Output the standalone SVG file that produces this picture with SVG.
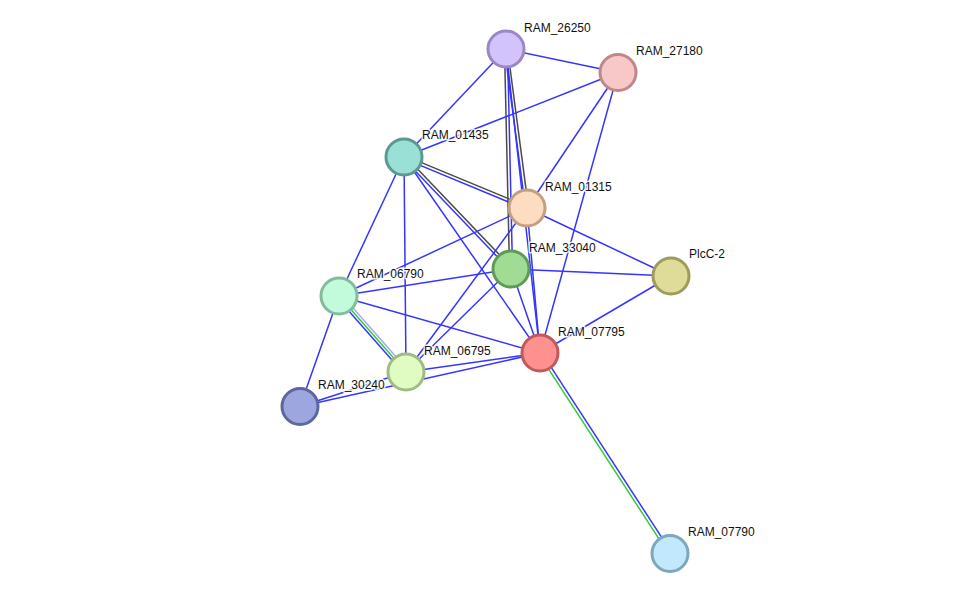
<svg xmlns="http://www.w3.org/2000/svg" width="975" height="599" viewBox="0 0 975 599">
<style>
.e{stroke:#3535ff;stroke-width:1.5;fill:none}
.k{stroke:#4a4a4a;stroke-width:1.5;fill:none}
.g{stroke:#33cc33;stroke-width:1.5;fill:none}
.h{stroke:#a8a8f4;stroke-width:1.5;fill:none}
.n{stroke-width:3}
.t{font-family:"Liberation Sans",Arial,sans-serif;font-size:12px;fill:#111;stroke:#fff;stroke-width:3;stroke-opacity:0.85;paint-order:stroke;stroke-linejoin:round}
</style>
<rect width="975" height="599" fill="#fff"/>
<g id="connectors">
<line class="e" x1="506" y1="49" x2="618" y2="72.5"/>
<line class="e" x1="506" y1="49" x2="404" y2="157"/>
<line class="e" x1="506" y1="49" x2="540" y2="353"/>
<line class="k" x1="504.5" y1="49" x2="509.5" y2="269"/>
<line class="e" x1="507.5" y1="49" x2="512.5" y2="269"/>
<line class="e" x1="504.5" y1="49.2" x2="525.5" y2="208.2"/>
<line class="k" x1="507.5" y1="48.8" x2="528.5" y2="207.8"/>
<line class="e" x1="618" y1="72.5" x2="404" y2="157"/>
<line class="e" x1="618" y1="72.5" x2="527" y2="208"/>
<line class="e" x1="618" y1="72.5" x2="540" y2="353"/>
<line class="k" x1="404.6" y1="155.6" x2="527.6" y2="206.6"/>
<line class="e" x1="403.4" y1="158.4" x2="526.4" y2="209.4"/>
<line class="k" x1="405.1" y1="156" x2="512.1" y2="268"/>
<line class="e" x1="402.9" y1="158" x2="509.9" y2="270"/>
<line class="e" x1="404" y1="157" x2="540" y2="353"/>
<line class="e" x1="404" y1="157" x2="339" y2="296"/>
<line class="e" x1="404" y1="157" x2="406" y2="372"/>
<line class="e" x1="527" y1="208" x2="671" y2="276"/>
<line class="e" x1="527" y1="208" x2="339" y2="296"/>
<line class="e" x1="527" y1="208" x2="406" y2="372"/>
<line class="e" x1="527" y1="208" x2="540" y2="353"/>
<line class="e" x1="511" y1="269" x2="671" y2="276"/>
<line class="e" x1="511" y1="269" x2="339" y2="296"/>
<line class="e" x1="511" y1="269" x2="406" y2="372"/>
<line class="e" x1="511" y1="269" x2="540" y2="353"/>
<line class="e" x1="671" y1="276" x2="540" y2="353"/>
<line class="e" x1="339" y1="296" x2="540" y2="353"/>
<line class="e" x1="339" y1="296" x2="300" y2="406.5"/>
<line class="e" x1="337.1" y1="297.7" x2="404.1" y2="373.7"/>
<line class="g" x1="339" y1="296" x2="406" y2="372"/>
<line class="h" x1="340.9" y1="294.3" x2="407.9" y2="370.3"/>
<line class="e" x1="406" y1="372" x2="540" y2="353"/>
<line class="e" x1="406" y1="372" x2="300" y2="406.5"/>
<line class="e" x1="300" y1="406.5" x2="540" y2="353"/>
<line class="g" x1="538.7" y1="353.8" x2="668.7" y2="553.8"/>
<line class="e" x1="541.3" y1="352.2" x2="671.3" y2="552.2"/>
</g>
<g id="RAM_26250"><circle class="n" cx="506" cy="49" r="18" fill="#d3c3fd" stroke="#9b86c8"/><text class="t" x="524" y="32">RAM_26250</text></g>
<g id="RAM_27180"><circle class="n" cx="618" cy="72.5" r="18" fill="#f8c8c8" stroke="#c08787"/><text class="t" x="636" y="55">RAM_27180</text></g>
<g id="RAM_01435"><circle class="n" cx="404" cy="157" r="18" fill="#9ae0d6" stroke="#5b9a90"/><text class="t" x="422" y="139">RAM_01435</text></g>
<g id="RAM_01315"><circle class="n" cx="527" cy="208" r="18" fill="#fddcc0" stroke="#c0a080"/><text class="t" x="545" y="191">RAM_01315</text></g>
<g id="RAM_33040"><circle class="n" cx="511" cy="269" r="18" fill="#a0dc93" stroke="#5f9a56"/><text class="t" x="529" y="252">RAM_33040</text></g>
<g id="PlcC-2"><circle class="n" cx="671" cy="276" r="18" fill="#dedc98" stroke="#9e9c5a"/><text class="t" x="689" y="258">PlcC-2</text></g>
<g id="RAM_06790"><circle class="n" cx="339" cy="296" r="18" fill="#c1fbdc" stroke="#82bc9c"/><text class="t" x="357" y="278">RAM_06790</text></g>
<g id="RAM_07795"><circle class="n" cx="540" cy="353" r="18" fill="#fe9090" stroke="#c05a5a"/><text class="t" x="558" y="336">RAM_07795</text></g>
<g id="RAM_06795"><circle class="n" cx="406" cy="372" r="18" fill="#e1fcc2" stroke="#a0bc82"/><text class="t" x="424" y="355">RAM_06795</text></g>
<g id="RAM_30240"><circle class="n" cx="300" cy="406.5" r="18" fill="#9ea6e0" stroke="#5e66a0"/><text class="t" x="318" y="389">RAM_30240</text></g>
<g id="RAM_07790"><circle class="n" cx="670" cy="553.5" r="18" fill="#c1e8fc" stroke="#80a6bc"/><text class="t" x="688" y="536">RAM_07790</text></g>
</svg>
